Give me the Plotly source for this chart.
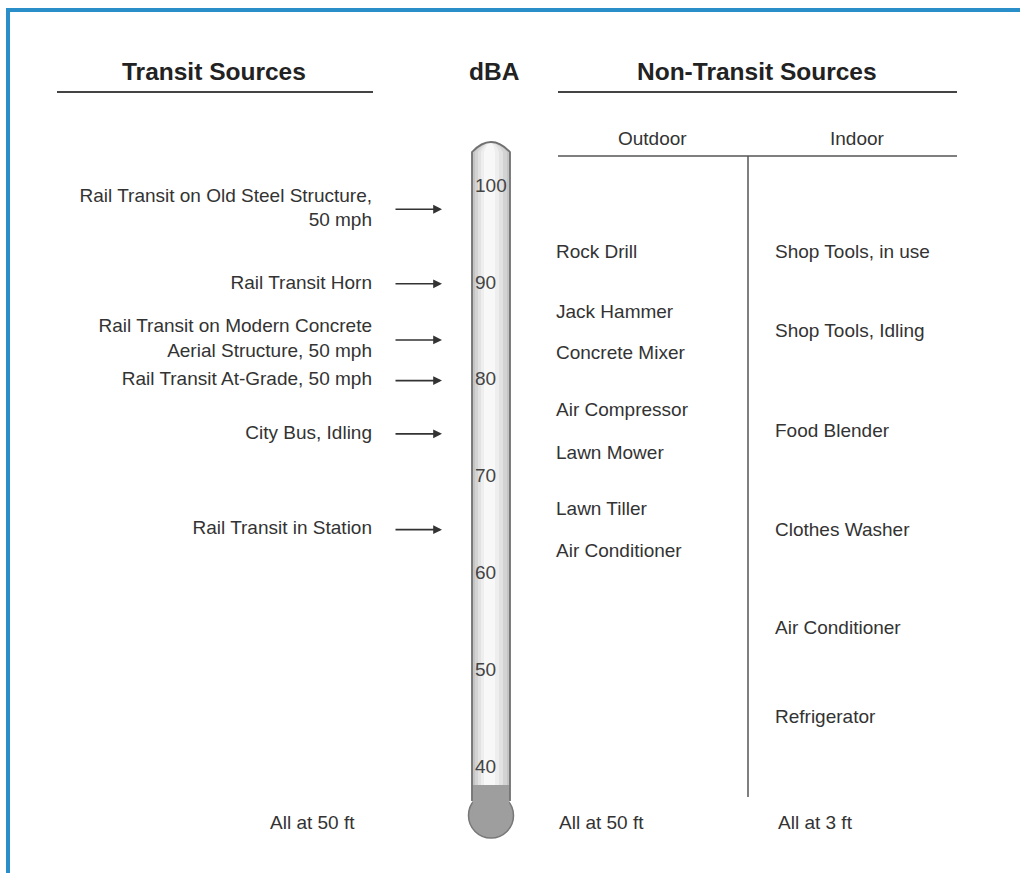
import plotly.graph_objects as go

# ---------------- data ----------------
scale_ticks = [100, 90, 80, 70, 60, 50, 40]
scale_tick_labels = ["100", "90", "80", "70", "60", "50", "40"]

transit_sources = [
    "Rail Transit on Old Steel Structure,<br>50 mph",
    "Rail Transit Horn",
    "Rail Transit on Modern Concrete<br>Aerial Structure, 50 mph",
    "Rail Transit At-Grade, 50 mph",
    "City Bus, Idling",
    "Rail Transit in Station",
]
transit_dba = [97.7, 90.0, 84.2, 80.0, 74.5, 64.6]

outdoor_sources = ["Rock Drill", "Jack Hammer", "Concrete Mixer", "Air Compressor",
                   "Lawn Mower", "Lawn Tiller", "Air Conditioner"]
outdoor_dba = [93.2, 87.0, 82.7, 76.8, 72.4, 66.6, 62.3]

indoor_sources = ["Shop Tools, in use", "Shop Tools, Idling", "Food Blender",
                  "Clothes Washer", "Air Conditioner", "Refrigerator"]
indoor_dba = [93.2, 85.0, 74.7, 64.4, 54.3, 45.1]

headers = ["Transit Sources", "dBA", "Non-Transit Sources"]
subheaders = ["Outdoor", "Indoor"]
footers = ["All at 50 ft", "All at 50 ft", "All at 3 ft"]

# ---------------- layout helpers ----------------
W, H = 1020, 873
PX_PER_DB = 9.68
Y100 = 187.0
def db_at(px):
    return 100 - (px - Y100) / PX_PER_DB
def py(px):
    return 1 - px / H

FONT = "Liberation Sans, Arial, sans-serif"
TXT = "#333333"
FS = 19

fig = go.Figure()

# ---------------- thermometer ----------------
tx0, tx1 = 472, 510
tube_top = db_at(152)
cap_ctrl = db_at(132)
tube_bot = db_at(800)
shapes = []
strips = [(0, 0, "#c4c4c4"), (3, 3, "#d3d3d3"), (6, 7, "#e2e2e2"),
          (9, 11, "#eeeeee"), (12, 15, "#f8f8f8")]
for l, r, c in strips:
    shapes.append(dict(type="path", xref="x", yref="y",
                       path=f"M {tx0+l},{tube_bot} L {tx0+l},{tube_top} Q {(tx0+tx1)/2},{cap_ctrl} {tx1-r},{tube_top} L {tx1-r},{tube_bot} Z",
                       fillcolor=c, line=dict(width=0), layer="below"))
fill_top = db_at(785)
shapes.append(dict(type="circle", xref="x", yref="y", x0=468.5, x1=513.5,
                   y0=db_at(838), y1=db_at(793), fillcolor="#9e9e9e",
                   line=dict(color="#777777", width=1.5)))
shapes.append(dict(type="rect", xref="x", yref="y", x0=tx0 + 0.8, x1=tx1 - 0.8,
                   y0=db_at(815), y1=fill_top, fillcolor="#9e9e9e", line=dict(width=0)))
shapes.append(dict(type="path", xref="x", yref="y",
                   path=f"M {tx0},{db_at(801)} L {tx0},{tube_top} Q {(tx0+tx1)/2},{cap_ctrl} {tx1},{tube_top} L {tx1},{db_at(801)}",
                   line=dict(color="#707070", width=1.8)))

# ---------------- rules ----------------
def hline(x0, x1, ypx, w=2, c="#444444"):
    shapes.append(dict(type="line", xref="x", yref="paper", x0=x0, x1=x1,
                       y0=py(ypx), y1=py(ypx), line=dict(color=c, width=w)))
hline(57, 373, 92, 2.2)
hline(558, 957, 92, 2.2)
hline(558, 957, 156, 1.5, "#555555")
shapes.append(dict(type="line", xref="x", yref="paper", x0=748, x1=748,
                   y0=py(156), y1=py(797), line=dict(color="#555555", width=1.5)))

# ---------------- page border (blue) ----------------
BLUE = "#2a8fc8"
shapes.append(dict(type="rect", xref="paper", yref="paper", x0=6 / W, x1=1,
                   y0=py(12), y1=py(8), fillcolor=BLUE, line=dict(width=0)))
shapes.append(dict(type="rect", xref="paper", yref="paper", x0=6 / W, x1=10 / W,
                   y0=0, y1=py(8), fillcolor=BLUE, line=dict(width=0)))

# ---------------- text traces ----------------
fig.add_trace(go.Scatter(x=[475] * len(scale_ticks), y=scale_ticks, mode="text",
                         text=scale_tick_labels, textposition="middle right",
                         textfont=dict(family=FONT, size=FS, color="#444444"),
                         hoverinfo="skip", showlegend=False))
fig.add_trace(go.Scatter(x=[372] * len(transit_dba), y=transit_dba, mode="text",
                         text=transit_sources, textposition="middle left",
                         textfont=dict(family=FONT, size=FS, color=TXT),
                         hoverinfo="skip", showlegend=False))
fig.add_trace(go.Scatter(x=[556] * len(outdoor_dba), y=outdoor_dba, mode="text",
                         text=outdoor_sources, textposition="middle right",
                         textfont=dict(family=FONT, size=FS, color=TXT),
                         hoverinfo="skip", showlegend=False))
fig.add_trace(go.Scatter(x=[775] * len(indoor_dba), y=indoor_dba, mode="text",
                         text=indoor_sources, textposition="middle right",
                         textfont=dict(family=FONT, size=FS, color=TXT),
                         hoverinfo="skip", showlegend=False))

annotations = []
for v in transit_dba:
    annotations.append(dict(x=442, y=v, ax=394, ay=v, xref="x", yref="y",
                            axref="x", ayref="y", text="", showarrow=True,
                            arrowhead=2, arrowsize=1.1, arrowwidth=1.6,
                            arrowcolor="#333333"))
for t, xc in zip(headers, [214, 494, 757]):
    annotations.append(dict(x=xc, y=py(71), xref="x", yref="paper", text=f"<b>{t}</b>",
                            showarrow=False, xanchor="center", yanchor="middle",
                            font=dict(family=FONT, size=24.5, color="#222222")))
for t, xc in zip(subheaders, [652, 857]):
    annotations.append(dict(x=xc, y=py(138), xref="x", yref="paper", text=t,
                            showarrow=False, xanchor="center", yanchor="middle",
                            font=dict(family=FONT, size=FS, color=TXT)))
for t, xa, anc in zip(footers, [357, 557, 776], ["right", "left", "left"]):
    annotations.append(dict(x=xa, y=py(822), xref="x", yref="paper", text=t,
                            showarrow=False, xanchor=anc, yanchor="middle",
                            font=dict(family=FONT, size=FS, color=TXT)))

fig.update_layout(
    width=W, height=H, margin=dict(l=0, r=0, t=0, b=0),
    paper_bgcolor="white", plot_bgcolor="white",
    xaxis=dict(range=[0, W], visible=False, fixedrange=True),
    yaxis=dict(range=[db_at(H), db_at(0)], visible=False, fixedrange=True),
    shapes=shapes, annotations=annotations, showlegend=False,
)
fig.write_html("out.html", config={"displayModeBar": False},
               post_script="document.body.style.margin='0px';document.body.style.overflow='hidden';")
